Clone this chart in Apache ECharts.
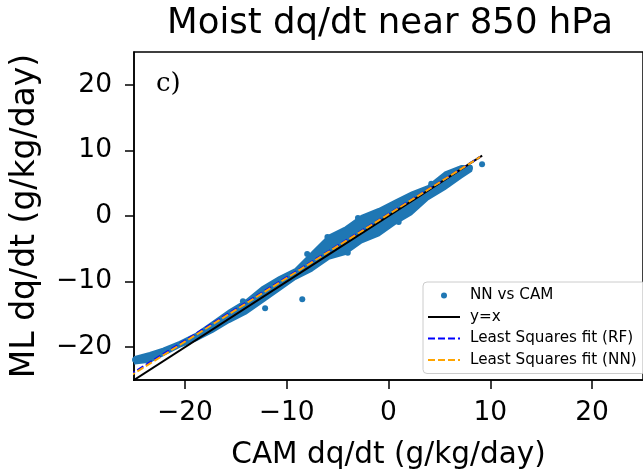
<!DOCTYPE html>
<html>
<head>
<meta charset="utf-8">
<script src="https://cdn.jsdelivr.net/npm/echarts@6/dist/echarts.min.js"></script>
<style>
html,body{margin:0;padding:0;background:#fff;}
#chart{width:643px;height:475px;}
</style>
</head>
<body>
<div id="chart"></div>
<script>
// ---- data ----
const titleText = 'Moist dq/dt near 850 hPa';
const xName = 'CAM dq/dt (g/kg/day)';
const yName = 'ML dq/dt (g/kg/day)';
const xTicks = [-20, -10, 0, 10, 20];
const yTicks = [-20, -10, 0, 10, 20];
// scatter cloud envelope (upper / lower edges) [CAM, ML]
const bandUpper = [[-24.93,-21.47],[-23.46,-20.87],[-22.16,-20.21],[-20.53,-19.19],[-18.90,-17.93],[-17.27,-16.16],[-15.64,-14.39],[-14.01,-12.87],[-12.39,-10.84],[-10.75,-9.32],[-9.12,-8.05],[-7.50,-5.52],[-5.87,-2.99],[-4.23,-1.72],[-2.61,0.05],[-0.98,1.06],[0.65,2.33],[2.28,3.60],[3.91,4.60],[5.54,6.64],[7.17,7.64],[8.14,7.64]];
const bandLower = [[-24.93,-22.49],[-23.46,-22.23],[-22.16,-21.23],[-20.53,-19.95],[-18.90,-18.95],[-17.27,-17.67],[-15.64,-16.16],[-14.01,-14.89],[-12.39,-13.12],[-10.75,-11.35],[-9.12,-9.57],[-7.50,-8.31],[-5.87,-6.53],[-4.23,-5.78],[-2.61,-4.00],[-0.98,-2.99],[0.65,-1.22],[2.28,0.30],[3.91,2.58],[5.54,4.10],[7.17,5.88],[8.14,6.88]];
// isolated points of the NN vs CAM scatter
const scatterPoints = [[-7.99,-5.78],[-8.47,-12.69],[-12.12,-14.06],[9.19,7.90],[-24.9,-21.9],[8.0,7.3],
  [-14.3,-13.0],[-6.0,-3.2],[-3.0,-0.3],[4.2,4.9],[-4.0,-5.6],[1.0,-0.9]];
const lineYeqX = [[-25.5,-25.5],[9.2,9.2]];
const fitRF = [[-25.5,-24.3],[9.0,9.0]];
const fitNN = [[-25.5,-24.5],[9.0,9.0]];

const FONT = 'DejaVu Sans';
const chart = echarts.init(document.getElementById('chart'), null, {renderer:'canvas'});

const bandPoly = bandUpper.concat(bandLower.slice().reverse());
const hideSym = {opacity: 0};

chart.setOption({
  animation: false,
  backgroundColor: '#ffffff',
  title: {
    text: titleText, left: 385, top: 1, textAlign: 'center',
    textStyle: {fontFamily: FONT, fontSize: 35.5, fontWeight: 'normal', color: '#000'}
  },
  grid: {
    left: 134, top: 52, right: -3, bottom: 93,
    show: true, borderColor: '#000', borderWidth: 1.5, backgroundColor: 'transparent'
  },
  xAxis: {
    type: 'value', min: -25, max: 25,
    name: xName, nameLocation: 'middle', nameGap: 60,
    nameTextStyle: {fontFamily: FONT, fontSize: 29.5, color: '#000'},
    axisLine: {show: true, onZero: false, lineStyle: {color: '#000', width: 1.5}},
    axisTick: {show: true, inside: false, length: 9, customValues: xTicks, lineStyle: {color: '#000', width: 1.5}},
    axisLabel: {customValues: xTicks, margin: 20, fontFamily: FONT, fontSize: 26.5, color: '#000',
      formatter: v => (v < 0 ? '\u2212' + Math.abs(v) : String(v))},
    splitLine: {show: false}
  },
  yAxis: {
    type: 'value', min: -25, max: 25,
    name: yName, nameLocation: 'middle', nameGap: 92, nameRotate: 90,
    nameTextStyle: {fontFamily: FONT, fontSize: 33, color: '#000'},
    axisLine: {show: true, onZero: false, lineStyle: {color: '#000', width: 1.5}},
    axisTick: {show: true, inside: false, length: 9, customValues: yTicks, lineStyle: {color: '#000', width: 1.5}},
    axisLabel: {customValues: yTicks, margin: 22, fontFamily: FONT, fontSize: 26.5, color: '#000',
      formatter: v => (v < 0 ? '\u2212' + Math.abs(v) : String(v))},
    splitLine: {show: false}
  },
  legend: {
    orient: 'vertical', left: 423, top: 282,
    backgroundColor: 'rgba(255,255,255,0.8)', borderColor: '#cccccc', borderWidth: 1, borderRadius: 4,
    padding: [6, 9, 6, 4], itemGap: 6.5, itemWidth: 32, itemHeight: 6,
    textStyle: {fontFamily: FONT, fontSize: 15.2, color: '#000', padding: [0, 0, 0, 5]},
    data: [
      {name: 'NN vs CAM', icon: 'circle'},
      {name: 'y=x', itemStyle: hideSym},
      {name: 'Least Squares fit (RF)', itemStyle: hideSym},
      {name: 'Least Squares fit (NN)', itemStyle: hideSym}
    ]
  },
  graphic: [{
    type: 'text', left: 156, top: 71,
    style: {text: 'c)', fontFamily: 'DejaVu Serif', fontSize: 26, fill: '#000'}
  }],
  series: [
    {
      name: 'NN vs CAM', type: 'custom', clip: true, z: 1,
      data: [0],
      renderItem: function (params, api) {
        const pts = bandPoly.map(p => api.coord(p));
        return {type: 'polygon', shape: {points: pts}, style: {fill: '#1f77b4', stroke: '#1f77b4', lineWidth: 2, lineJoin: 'round'}};
      },
      itemStyle: {color: '#1f77b4'}
    },
    {
      name: 'NN vs CAM', type: 'scatter', data: scatterPoints, symbolSize: 6, z: 2,
      itemStyle: {color: '#1f77b4', opacity: 1}
    },
    {
      name: 'y=x', type: 'line', data: lineYeqX, symbol: 'none', z: 3,
      lineStyle: {color: '#000', width: 2}, itemStyle: {color: '#000'}
    },
    {
      name: 'Least Squares fit (RF)', type: 'line', data: fitRF, symbol: 'none', z: 4,
      lineStyle: {color: '#0000ff', width: 2, type: [7, 3]}, itemStyle: {color: '#0000ff'}
    },
    {
      name: 'Least Squares fit (NN)', type: 'line', data: fitNN, symbol: 'none', z: 5,
      lineStyle: {color: '#ffa500', width: 2, type: [7, 3]}, itemStyle: {color: '#ffa500'}
    }
  ]
});
</script>
</body>
</html>
